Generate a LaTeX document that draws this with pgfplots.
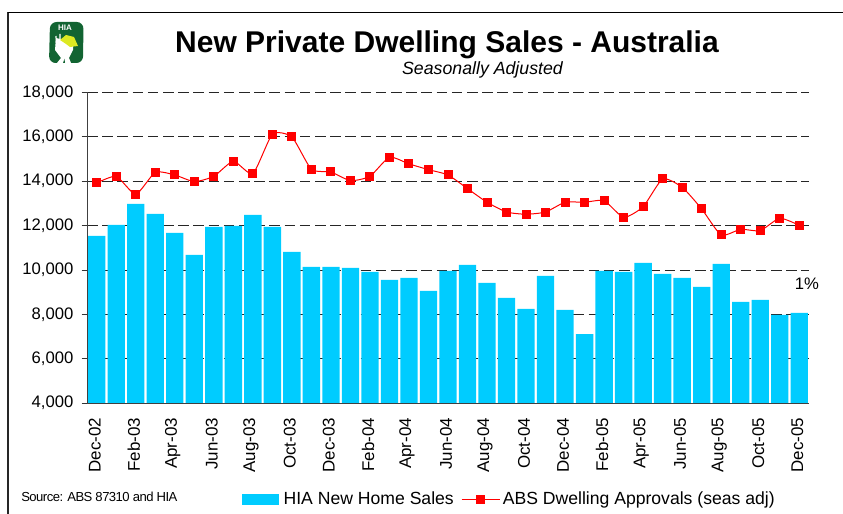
\documentclass[border=0pt]{standalone}
\usepackage{pgfplots}
\usepackage{pgfplotstable}
\usepackage{fontspec}
\setmainfont{Liberation Sans}
\pgfplotsset{compat=1.18}
\definecolor{barblue}{RGB}{0,204,255}
\definecolor{hiagreen}{RGB}{18,100,50}
\pgfplotstableread{
idx sales approvals
0 11530 13920
1 12026 14220
2 12973 13410
3 12522 14400
4 11665 14280
5 10673 13980
6 11936 14220
7 11981 14900
8 12477 14340
9 11936 16115
10 10809 15995
11 10132 14535
12 10132 14415
13 10087 14025
14 9907 14220
15 9546 15080
16 9636 14780
17 9050 14520
18 9952 14280
19 10222 13665
20 9411 13050
21 8734 12610
22 8239 12510
23 9726 12610
24 8194 13050
25 7110 13050
26 9952 13120
27 9907 12370
28 10313 12850
29 9817 14100
30 9636 13725
31 9230 12750
32 10268 11575
33 8554 11830
34 8644 11770
35 7968 12330
36 8058 12010
}\datatable
\begin{document}
\begin{tikzpicture}[x=0.75pt,y=0.75pt]
\useasboundingbox (0,0) rectangle (843,514);
% frame
\draw[black!85,line width=1.1pt] (8,0) -- (8,501.5);
\draw[black,line width=0.8pt] (7.5,501.5) -- (843,501.5);
% logo
\fill[hiagreen,rounded corners=5pt] (49,451) -- (83,451) -- (83.5,492) -- (50,492) -- cycle;
\fill[white] (57,451) -- (71,451) -- (69,456) -- (73,464) -- (73,472) -- (56,476) -- (55,464) -- (61,456) -- cycle;
\fill[hiagreen] (63,451) -- (65,451) -- (64.5,455) -- cycle;
\draw[white,line width=0.9pt] (56.5,468) -- (56,478) (60,470) -- (60,480);
\fill[yellow!85!green!90!white] (60,474) -- (66,479) -- (74,477) -- (78,468) -- (70,467) -- (66,470) -- cycle;
\node[white,font=\bfseries\fontsize{6}{7}\selectfont,inner sep=0pt] at (65,486.5) {HIA};
% titles
\node[anchor=base,font=\bfseries\fontsize{22.5}{26}\selectfont,inner sep=0pt] at (447,461) {New Private Dwelling Sales - Australia};
\node[anchor=base,font=\itshape\fontsize{13.3}{15}\selectfont,inner sep=0pt] at (482.5,439) {Seasonally Adjusted};
\node[anchor=base west,font=\fontsize{9.8}{12}\selectfont,inner sep=0pt] at (21,12.5) {\addfontfeatures{LetterSpace=-4}Source: ABS 87310 and HIA};
\node[anchor=base,font=\fontsize{12.5}{14}\selectfont,inner sep=0pt] at (807,224) {1\%};
\begin{axis}[
  at={(65.25pt,83.25pt)},anchor=south west,
  scale only axis,
  width=541.5pt,height=232.9pt,
  xmin=-0.5,xmax=36.5,
  ymin=4000,ymax=18000,
  axis x line=bottom,axis y line=left,
  axis line style={-,black!75,line width=0.6pt},
  xtick={0,2,...,36},
  xticklabels={Dec-02,Feb-03,Apr-03,Jun-03,Aug-03,Oct-03,Dec-03,Feb-04,Apr-04,Jun-04,Aug-04,Oct-04,Dec-04,Feb-05,Apr-05,Jun-05,Aug-05,Oct-05,Dec-05},
  x tick label style={xshift=-1.5pt,yshift=-7pt,rotate=90,anchor=east,inner sep=0pt,font=\fontsize{12.7}{14}\selectfont},
  major x tick style={draw=none},
  extra x ticks={-0.5,1.5,...,35.5},
  extra x tick labels={},
  extra x tick style={major tick length=4pt,tick style={draw=black!80,line width=0.5pt},grid=none},
  ytick={4000,6000,...,18000},
  y tick label style={inner sep=0pt,xshift=-6pt,font=\fontsize{12.5}{14}\selectfont},
  /pgf/number format/assume math mode=true,
  /pgf/number format/1000 sep={,},
  scaled y ticks=false,
  tick align=outside,
  major tick length=4pt,
  y tick style={draw=black!80,line width=0.5pt},
  ymajorgrids,
  grid style={black!85,line width=0.55pt,dash pattern=on 8pt off 3.4pt},
  clip=false,
  legend columns=2,
  legend style={at={(0.2147,-0.343)},anchor=south west,draw=none,fill=none,
    font=\fontsize{13.2}{15}\selectfont,inner sep=0pt,
    /tikz/every even column/.style={column sep=3.5pt}},
]
\addplot[ybar,bar width=13pt,fill=barblue,draw=none,
  legend image code/.code={\fill[barblue] (0pt,-4.2pt) rectangle (27.5pt,4.2pt);}]
  table[x=idx,y=sales]{\datatable};
\addlegendentry{\hspace{1.5pt}HIA New Home Sales}
\addplot[red,line width=0.75pt,smooth,tension=0.35,mark=square*,mark size=3pt,mark options={solid,fill=red,draw=red},
  legend image code/.code={\draw[red,line width=0.75pt] (0pt,0pt) -- (28.5pt,0pt);\fill[red] (11.25pt,-3pt) rectangle (17.25pt,3pt);}]
  table[x=idx,y=approvals]{\datatable};
\addlegendentry{ABS Dwelling Approvals (seas adj)}
\end{axis}
\end{tikzpicture}
\end{document}
